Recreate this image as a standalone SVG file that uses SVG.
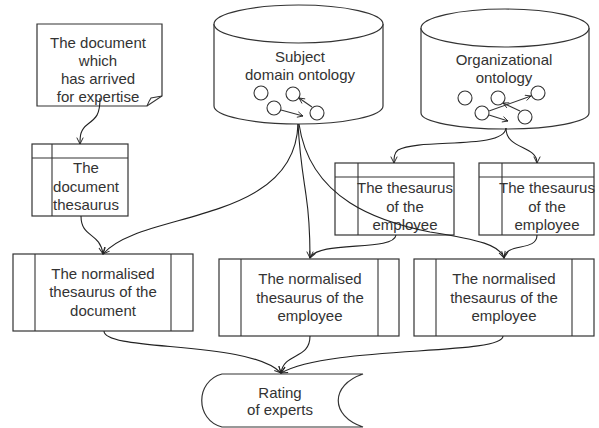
<svg xmlns="http://www.w3.org/2000/svg" width="599" height="428" viewBox="0 0 599 428">
  <defs>
    <marker id="arr" viewBox="0 0 10 10" refX="9" refY="5" markerWidth="8" markerHeight="8" orient="auto" markerUnits="userSpaceOnUse">
      <path d="M1,1 L9,5 L1,9" fill="none" stroke="#222" stroke-width="1.2"/>
    </marker>
    <marker id="arrs" viewBox="0 0 10 10" refX="9" refY="5" markerWidth="7" markerHeight="7" orient="auto" markerUnits="userSpaceOnUse">
      <path d="M1,1 L9,5 L1,9" fill="none" stroke="#222" stroke-width="1.2"/>
    </marker>
  </defs>
  <style>
    .shape { fill: #fff; stroke: #333; stroke-width: 1.2; }
    .line { fill: none; stroke: #333; stroke-width: 1.1; }
    .conn { fill: none; stroke: #222; stroke-width: 1.1; marker-end: url(#arr); }
    .lbl { font-family: "Liberation Sans", Arial, sans-serif; font-size: 15px; fill: #333; text-anchor: middle; }
    .dot { fill: #fff; stroke: #333; stroke-width: 1.1; }
  </style>
  <rect width="599" height="428" fill="#fff"/>

  <!-- incoming document -->
  <g id="document">
    <path class="shape" d="M37,24 H162 V96 L147,106 H37 Z"/>
    <path class="line" d="M147,106 Q149,101 151,98 L162,96"/>
    <text class="lbl" x="98" y="48">The document</text>
    <text class="lbl" x="98" y="66">which</text>
    <text class="lbl" x="98" y="84">has arrived</text>
    <text class="lbl" x="98" y="102">for expertise</text>
  </g>

  <!-- subject domain ontology store -->
  <g id="subject-ontology">
    <path class="shape" d="M214,24 V106 A84.5,18 0 0 0 383,106 V24"/>
    <ellipse class="shape" cx="298.5" cy="24" rx="84.5" ry="19"/>
    <text class="lbl" x="300" y="62">Subject</text>
    <text class="lbl" x="300" y="80">domain ontology</text>
    <circle class="dot" cx="261" cy="93" r="7"/>
    <circle class="dot" cx="293" cy="94" r="7"/>
    <circle class="dot" cx="274" cy="108" r="7"/>
    <circle class="dot" cx="317" cy="113" r="7"/>
    <path class="line" d="M281,110 L303,116" marker-end="url(#arrs)"/>
    <path class="line" d="M312,107 L299,98" marker-end="url(#arrs)"/>
  </g>

  <!-- organizational ontology store -->
  <g id="org-ontology">
    <path class="shape" d="M421,28 V113 A84,16 0 0 0 589,113 V28"/>
    <ellipse class="shape" cx="505" cy="28" rx="84" ry="19"/>
    <text class="lbl" x="504" y="65">Organizational</text>
    <text class="lbl" x="504" y="83">ontology</text>
    <circle class="dot" cx="465" cy="98" r="7"/>
    <circle class="dot" cx="498" cy="98" r="7"/>
    <circle class="dot" cx="482" cy="113" r="7"/>
    <circle class="dot" cx="525" cy="117" r="7"/>
    <circle class="dot" cx="538" cy="93" r="7"/>
    <path class="line" d="M489,111 L531,96" marker-end="url(#arrs)"/>
    <path class="line" d="M489,115 L508,121" marker-end="url(#arrs)"/>
    <path class="line" d="M520,111 L503,103" marker-end="url(#arrs)"/>
  </g>

  <!-- document thesaurus -->
  <g id="doc-thesaurus">
    <rect class="shape" x="32" y="144" width="96" height="72"/>
    <path class="line" d="M52,144 V216 M32,158 H128"/>
    <text class="lbl" x="86" y="173">The</text>
    <text class="lbl" x="86" y="192">document</text>
    <text class="lbl" x="86" y="210">thesaurus</text>
  </g>

  <!-- employee thesauri -->
  <g id="emp-thesaurus-1">
    <rect class="shape" x="335" y="163" width="119" height="72"/>
    <path class="line" d="M358,163 V235 M335,177 H454"/>
    <text class="lbl" x="405" y="193">The thesaurus</text>
    <text class="lbl" x="405" y="212">of the</text>
    <text class="lbl" x="405" y="230">employee</text>
  </g>
  <g id="emp-thesaurus-2">
    <rect class="shape" x="479" y="163" width="115" height="72"/>
    <path class="line" d="M502,163 V235 M479,177 H594"/>
    <text class="lbl" x="547" y="193">The thesaurus</text>
    <text class="lbl" x="547" y="212">of the</text>
    <text class="lbl" x="547" y="230">employee</text>
  </g>

  <!-- normalised thesauri -->
  <g id="norm-doc">
    <rect class="shape" x="13" y="254" width="180" height="77"/>
    <path class="line" d="M35,254 V331 M171,254 V331"/>
    <text class="lbl" x="103" y="279">The normalised</text>
    <text class="lbl" x="103" y="297">thesaurus of the</text>
    <text class="lbl" x="103" y="316">document</text>
  </g>
  <g id="norm-emp-1">
    <rect class="shape" x="219" y="259" width="180" height="77"/>
    <path class="line" d="M241,259 V336 M378,259 V336"/>
    <text class="lbl" x="310" y="284">The normalised</text>
    <text class="lbl" x="310" y="303">thesaurus of the</text>
    <text class="lbl" x="310" y="321">employee</text>
  </g>
  <g id="norm-emp-2">
    <rect class="shape" x="414" y="259" width="180" height="77"/>
    <path class="line" d="M436,259 V336 M572,259 V336"/>
    <text class="lbl" x="504" y="284">The normalised</text>
    <text class="lbl" x="504" y="303">thesaurus of the</text>
    <text class="lbl" x="504" y="321">employee</text>
  </g>

  <!-- rating output -->
  <g id="rating">
    <path class="shape" d="M222,374 H363 C330,385 330,416 363,427 H222 C195,420 195,381 222,374 Z"/>
    <text class="lbl" x="280" y="398">Rating</text>
    <text class="lbl" x="280" y="415">of experts</text>
  </g>

  <!-- connectors -->
  <g id="connectors">
    <path class="conn" d="M100,98 C100,115 96,118 88,124 C80,130 80,136 80,144"/>
    <path class="conn" d="M81,216 C81,238 100,232 103,254"/>
    <path class="conn" d="M298,124 C295,225 140,210 103,254"/>
    <path class="conn" d="M298,124 C300,160 304,180 306,195 C309,215 310,240 310,258"/>
    <path class="conn" d="M299,124 C310,200 380,222 430,232 C480,240 500,245 504,258"/>
    <path class="conn" d="M506,128 C504,150 420,138 398,150 C394,153 394,158 394,163"/>
    <path class="conn" d="M506,128 C506,150 537,145 537,163"/>
    <path class="conn" d="M396,235 C394,252 318,240 310,258"/>
    <path class="conn" d="M537,235 C537,252 506,242 504,258"/>
    <path class="conn" d="M104,331 C104,352 250,340 281,373"/>
    <path class="conn" d="M310,336 C310,360 284,352 281,373"/>
    <path class="conn" d="M503,336 C503,356 330,345 281,373"/>
  </g>
</svg>
